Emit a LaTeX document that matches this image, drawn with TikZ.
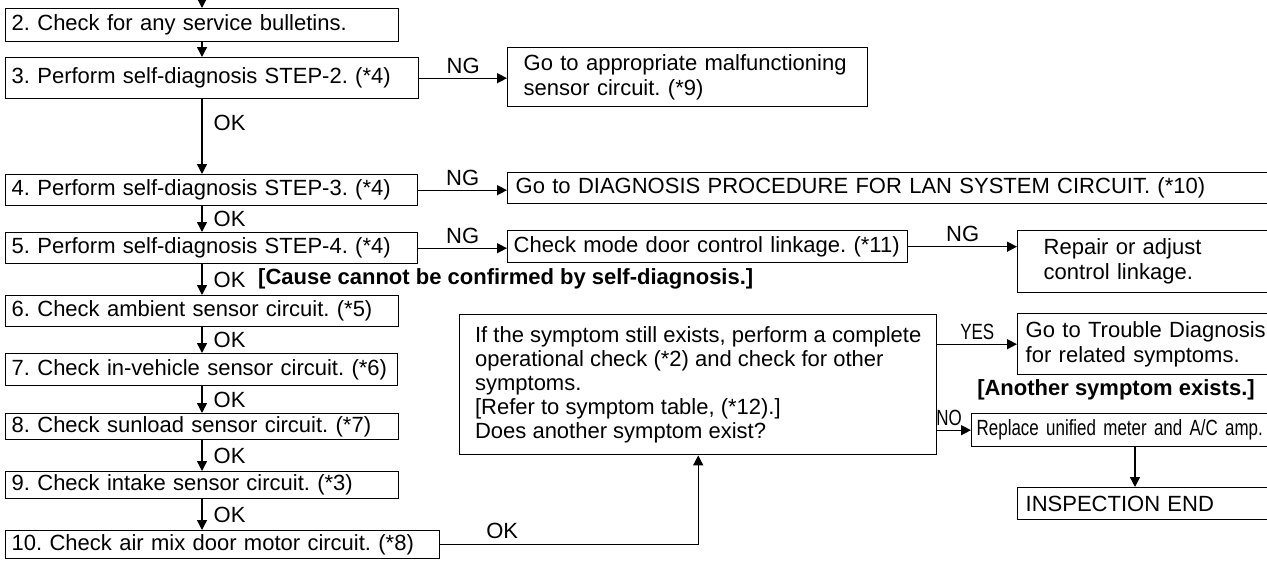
\documentclass[tikz,border=0pt]{standalone}
\usepackage{fontspec}
\setmainfont{Liberation Sans}
\newfontfamily\narrowfont[FakeStretch=0.77]{Liberation Sans}
\usetikzlibrary{arrows.meta}

\begin{document}
\frenchspacing
\begin{tikzpicture}[x=1pt, y=-1pt,
    every node/.style={font=\fontsize{22}{25}\selectfont},
    stepbox/.style={draw, line width=1.4pt, anchor=north west, align=left,
                    inner xsep=6pt, inner ysep=0pt},
    flow/.style={line width=1.4pt, -{Triangle[length=10pt, width=10pt]}},
    tag/.style={inner sep=0pt},
    note/.style={inner sep=0pt, font=\fontsize{22}{25}\selectfont\bfseries}]
    \clip (0,0) rectangle (1267,560);
    \coordinate (spine) at (202,-12);
    \coordinate (drop) at (1135,0);

    \node[stepbox, text width=381pt, minimum height=33pt] (s2) at (5,8) {2. Check for any service bulletins.};
    \node[stepbox, text width=401pt, minimum height=41pt] (s3) at (5,57) {3. Perform self-diagnosis STEP-2. (*4)};
    \node[stepbox, text width=400pt, minimum height=31pt] (s4) at (5,174) {4. Perform self-diagnosis STEP-3. (*4)};
    \node[stepbox, text width=400pt, minimum height=31pt] (s5) at (5,232) {5. Perform self-diagnosis STEP-4. (*4)};
    \node[stepbox, text width=381pt, minimum height=31pt] (s6) at (5,295) {6. Check ambient sensor circuit. (*5)};
    \node[stepbox, text width=380pt, minimum height=32pt] (s7) at (5,353) {7. Check in-vehicle sensor circuit. (*6)};
    \node[stepbox, text width=381pt, minimum height=26pt] (s8) at (5,413) {8. Check sunload sensor circuit. (*7)};
    \node[stepbox, text width=381pt, minimum height=27pt] (s9) at (5,471) {9. Check intake sensor circuit. (*3)};
    \node[stepbox, text width=422pt, minimum height=28pt] (s10) at (5,530) {10. Check air mix door motor circuit. (*8)};

    \node[stepbox, inner xsep=16pt, text width=328pt, minimum height=59pt] (sensor) at (507,47)
        {Go to appropriate malfunctioning\\ sensor circuit. (*9)};
    \node[stepbox, inner xsep=8pt, text width=757pt, minimum height=31pt] (lan) at (507,172)
        {Go to DIAGNOSIS PROCEDURE FOR LAN SYSTEM CIRCUIT. (*10)};
    \node[stepbox, text width=388pt, minimum height=32pt] (linkage) at (507,230)
        {\mbox{Check mode door control linkage. (*11)}};
    \node[stepbox, inner xsep=26pt, text width=211pt, minimum height=62pt] (repair) at (1017,230)
        {Repair or adjust\\ control linkage.};
    \node[stepbox, inner xsep=0pt, minimum width=477pt, minimum height=140pt,
          font=\fontsize{22}{24}\selectfont] (recheck) at (459,314)
        {If the symptom still exists, perform a complete\\ operational check (*2) and check for other\\
         symptoms.\\ {[Refer to symptom table, (*12).]}\\ Does another symptom exist?};
    \node[stepbox, inner xsep=8pt, text width=247pt, minimum height=61pt] (trouble) at (1017,313)
        {Go to Trouble Diagnosis\\ for related symptoms.};
    \node[stepbox, inner xsep=5pt, text width=300pt, minimum height=33pt,
          font=\fontsize{22}{25}\narrowfont] (replace) at (971,413)
        {Replace unified meter and A/C amp.};
    \node[stepbox, inner xsep=8pt, text width=247pt, minimum height=32pt] (inspend) at (1017,487)
        {INSPECTION END};

    \draw[flow] (spine) -- (s2.north -| spine);
    \draw[flow] (s2.south -| spine) -- (s3.north -| spine);
    \draw[flow] (s3.south -| spine) -- node[tag, pos=0.32, right=11pt] {OK} (s4.north -| spine);
    \foreach \a/\b in {s4/s5, s5/s6, s6/s7, s7/s8, s8/s9, s9/s10}
        \draw[flow] (\a.south -| spine) -- node[tag, right=11pt] {OK} (\b.north -| spine);
    \node[note, anchor=west] (cause) at (258,279) {[Cause cannot be confirmed by self-diagnosis.]};

    \draw[flow] (s3.east) -- node[tag, above=4pt] {NG} (s3.east -| sensor.west);
    \draw[flow] (s4.east) -- node[tag, above=4pt] {NG} (s4.east -| lan.west);
    \draw[flow] (s5.east) -- node[tag, above=4pt] {NG} (s5.east -| linkage.west);
    \draw[flow] (linkage.east) -- node[tag, above=4pt] {NG} (linkage.east -| repair.west);
    \draw[flow] (s10.east) -| node[tag, pos=0.12, above=5pt] {OK} (recheck.south);
    \draw[flow] (trouble.west -| recheck.east) -- node[tag, above=4pt, font=\fontsize{22}{25}\narrowfont] {YES} (trouble.west);
    \node[note] (another) at (1116,390) {[Another symptom exists.]};
    \draw[flow] (replace.west -| recheck.east) -- node[tag, pos=0.35, above=4pt, font=\fontsize{22}{25}\narrowfont] {NO} (replace.west);
    \draw[flow] (replace.south -| drop) -- (inspend.north -| drop);
\end{tikzpicture}
\end{document}
